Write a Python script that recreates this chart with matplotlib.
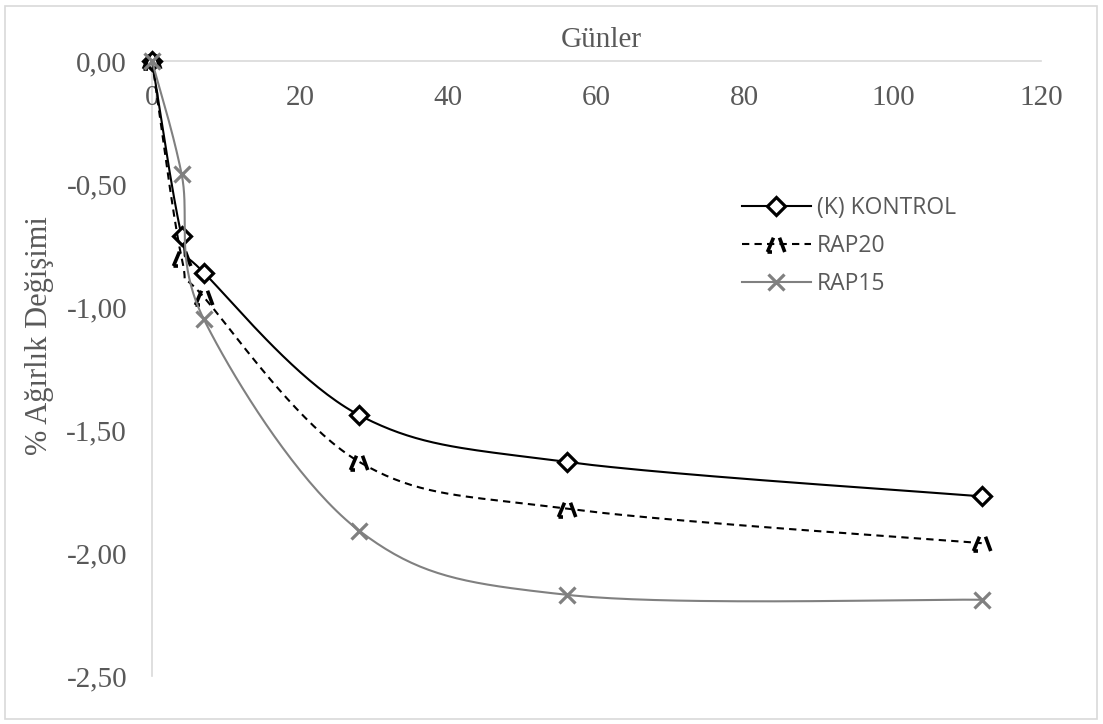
import numpy as np
import matplotlib
matplotlib.use("Agg")
import matplotlib.pyplot as plt
from matplotlib.path import Path
from matplotlib.patches import Rectangle
from matplotlib.ticker import FuncFormatter

days = [0, 4, 7, 28, 56, 112]
kontrol = [0.0, -0.71, -0.86, -1.44, -1.63, -1.77]
rap20 = [0.0, -0.80, -0.96, -1.63, -1.82, -1.96]
rap15 = [0.0, -0.46, -1.05, -1.91, -2.17, -2.19]
series_names = ["(K) KONTROL", "RAP20", "RAP15"]
x_ticks = [0, 20, 40, 60, 80, 100, 120]
y_ticks = [0.0, -0.5, -1.0, -1.5, -2.0, -2.5]


def smooth(xs, ys, n=40):
    """Excel-style smoothed line (Catmull-Rom Bezier)."""
    pts = np.column_stack([xs, ys]).astype(float)
    m = len(pts)
    out = [pts[0]]
    idx = [0]
    t = np.linspace(0, 1, n + 1)[1:]
    for i in range(m - 1):
        p0 = pts[i - 1] if i > 0 else pts[i]
        p1 = pts[i]
        p2 = pts[i + 1]
        p3 = pts[i + 2] if i + 2 < m else pts[i + 1]
        c1 = p1 + (p2 - p0) / 6.0
        c2 = p2 - (p3 - p1) / 6.0
        tt = t[:, None]
        seg = ((1 - tt) ** 3) * p1 + 3 * ((1 - tt) ** 2) * tt * c1 + 3 * (1 - tt) * tt ** 2 * c2 + tt ** 3 * p2
        out.extend(seg)
        idx.append(len(out) - 1)
    out = np.array(out)
    return out[:, 0], out[:, 1], idx


plt.rcParams["font.family"] = ["Liberation Serif", "DejaVu Serif"]
fig = plt.figure(figsize=(11.03, 7.24), dpi=100)
ax = fig.add_axes([152 / 1103, 1 - 676 / 724, (1041 - 152) / 1103, (676 - 61) / 724])

# custom dashed-triangle style marker
caret = Path(
    [(-0.6, -0.5), (-0.2, 0.45), (-0.6, -0.5), (-0.3, -0.5), (0.2, 0.45), (0.55, -0.5)],
    [Path.MOVETO, Path.LINETO, Path.MOVETO, Path.LINETO, Path.MOVETO, Path.LINETO],
)

styles = [
    dict(color="black", ls="-", marker="D", ms=9, mfc="white", mec="black", mew=2.3, lw=1.5),
    dict(color="black", ls=(0, (3.5, 2.5)), marker=caret, ms=13, mfc="none", mec="black", mew=2.6, lw=1.5),
    dict(color="#808080", ls="-", marker="x", ms=12, mfc="none", mec="#808080", mew=2.3, lw=1.5),
]

for ys, name, st in zip([kontrol, rap20, rap15], series_names, styles):
    sx, sy, idx = smooth(days, ys)
    ax.plot(sx, sy, label=name, markevery=idx, clip_on=False, **st)

ax.set_xlim(0, 120)
ax.set_ylim(-2.5, 0)
ax.set_xticks(x_ticks)
ax.set_yticks(y_ticks)
ax.yaxis.set_major_formatter(FuncFormatter(lambda v, p: f"{v:.2f}".replace(".", ",")))
ax.xaxis.set_major_formatter(FuncFormatter(lambda v, p: f"{v:.0f}"))

for s in ["right", "top"]:
    ax.spines[s].set_visible(False)
ax.spines["bottom"].set_position(("data", 0))
ax.spines["bottom"].set_color("#d9d9d9")
ax.spines["left"].set_color("#d9d9d9")
ax.spines["bottom"].set_linewidth(1.2)
ax.spines["left"].set_linewidth(1.2)
ax.spines["bottom"].set_zorder(0)
ax.spines["left"].set_zorder(0)

ax.tick_params(axis="x", length=0, pad=17.5, labelsize=21, labelcolor="#595959")
ax.tick_params(axis="y", length=0, pad=18, labelsize=21, labelcolor="#595959")

fig.text(601 / 1103, 1 - 40 / 724, "Günler", ha="center", va="center", fontsize=21, color="#595959")
fig.text(40 / 1103, 1 - 336 / 724, "% Ağırlık Değişimi", ha="center", va="center", rotation=90,
         fontsize=22, color="#595959")

leg = ax.legend(loc="upper left", bbox_to_anchor=(742 / 1103, 1 - 196 / 724), bbox_transform=fig.transFigure,
                frameon=False, borderpad=0, borderaxespad=0, handlelength=3.0, handletextpad=0.28,
                labelspacing=0.62, prop={"family": "Open Sans", "size": 16.5})
for t in leg.get_texts():
    t.set_color("#595959")

fig.patches.append(Rectangle((5, 5), 1092, 713, transform=None, fill=False, edgecolor="#d9d9d9", lw=1.2))

fig.savefig("out.png", dpi=100)
